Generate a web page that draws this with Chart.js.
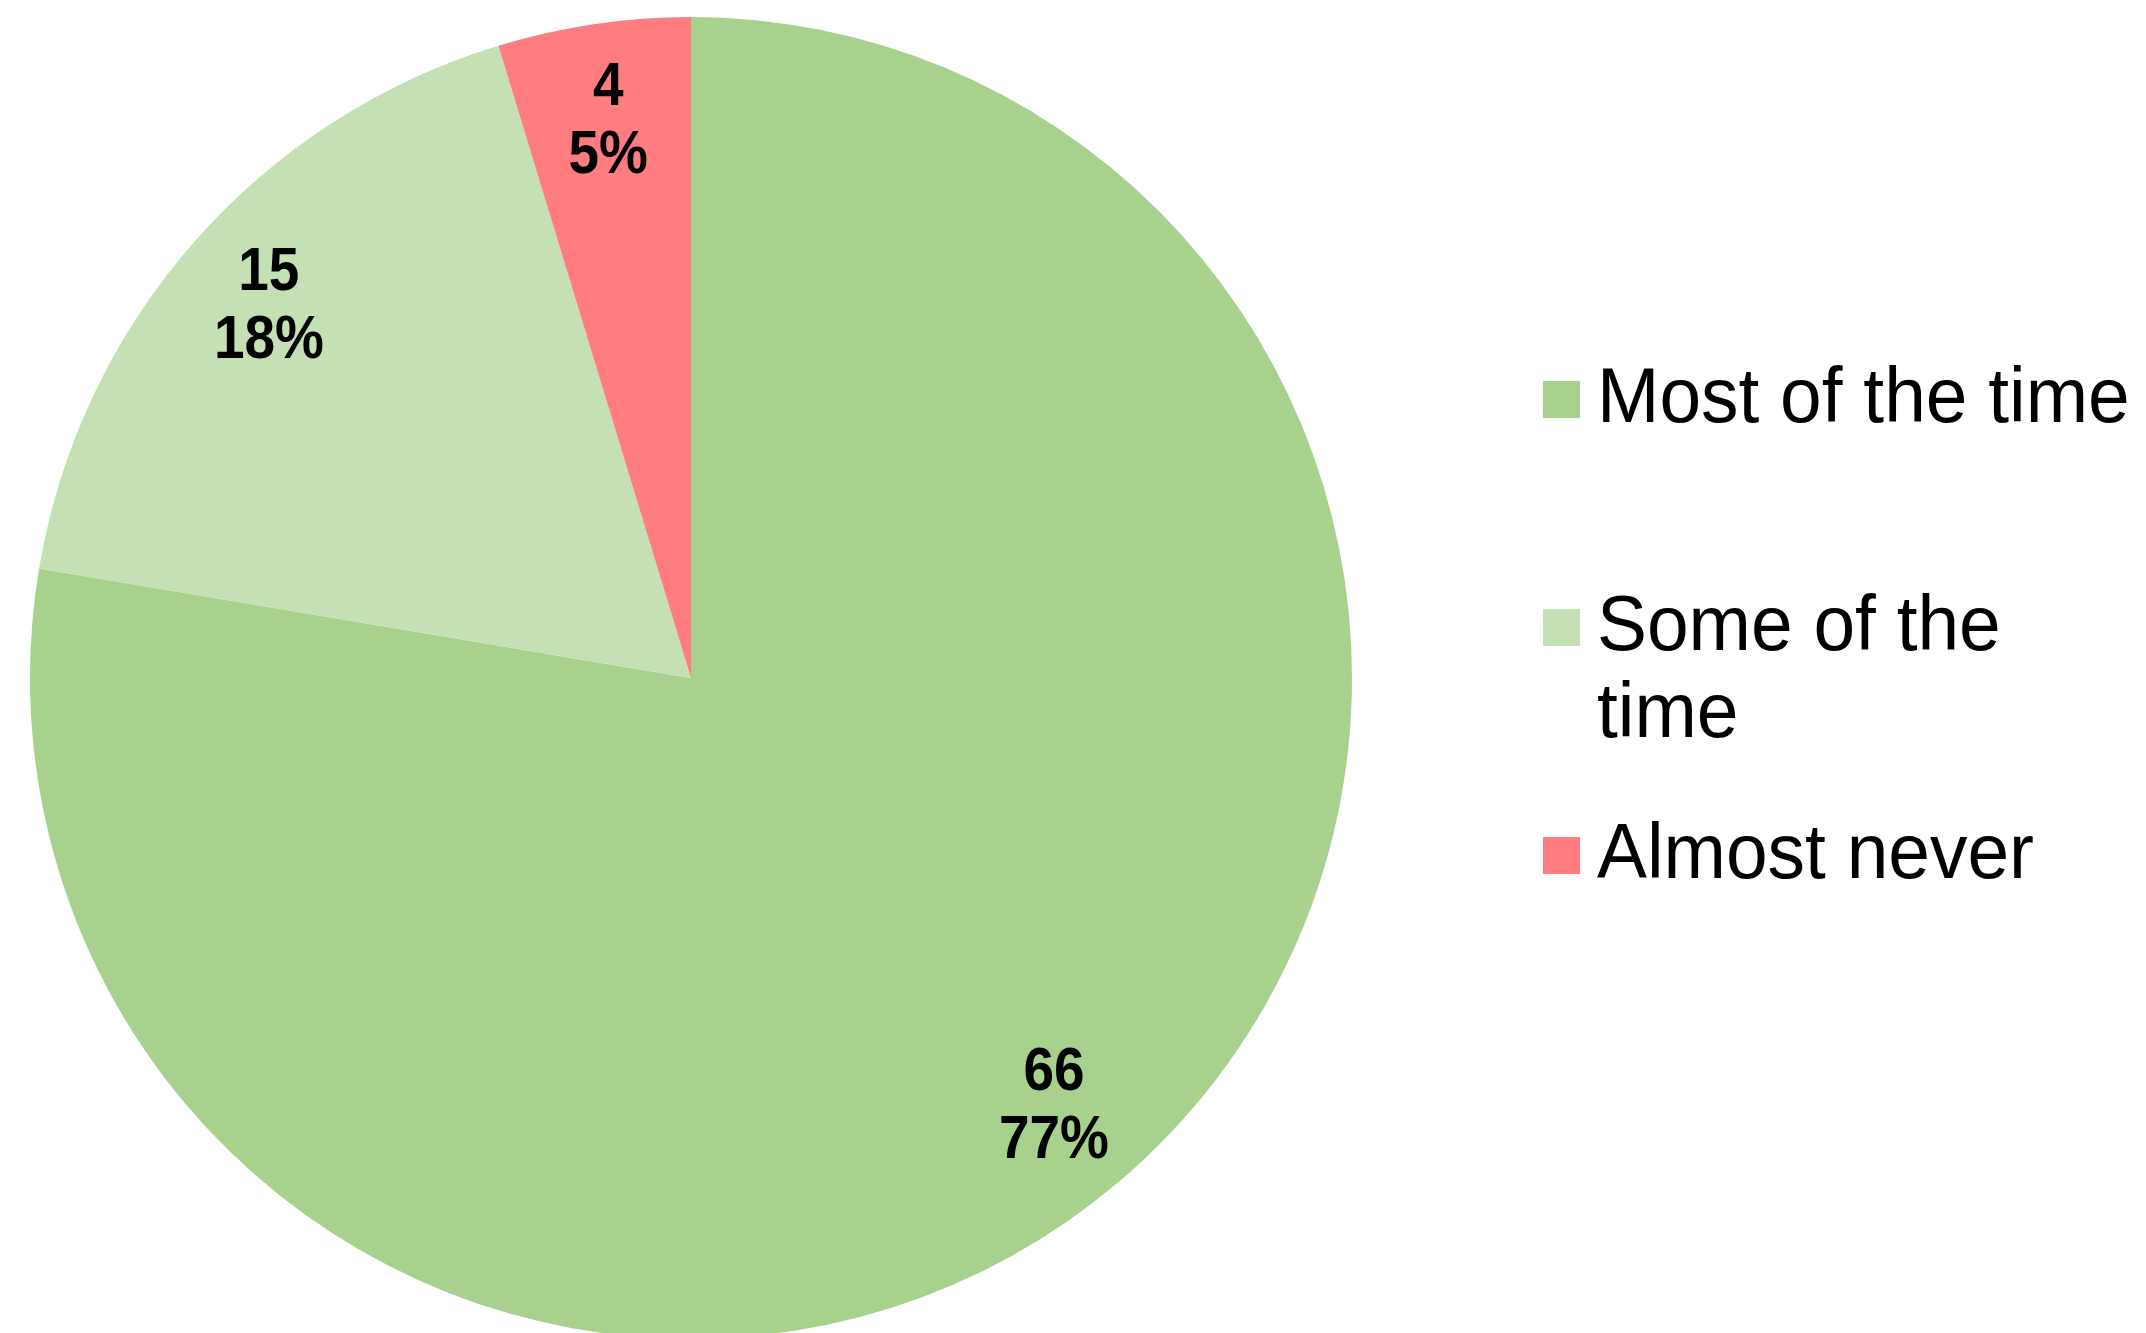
<!DOCTYPE html>
<html>
<head>
<meta charset="utf-8">
<script src="https://cdn.jsdelivr.net/npm/chart.js@4.4.1/dist/chart.umd.min.js"></script>
<style>
  html, body { margin: 0; padding: 0; background: #fff; overflow: hidden; }
  #wrap { position: absolute; left: 0; top: 0; width: 2146px; height: 1345px; }
</style>
</head>
<body>
<div id="wrap"><canvas id="chart"></canvas></div>
<script>
// ─────────────────────────────────────────
// DATA
// ─────────────────────────────────────────
const categories = ['Most of the time', 'Some of the time', 'Almost never'];
const counts = [66, 15, 4];
const percentLabels = ['77%', '18%', '5%'];
const legendLines = [['Most of the time'], ['Some of the', 'time'], ['Almost never']];
const sliceColors = ['#A9D18E', '#C5E0B4', '#FF7C80'];

const FONT = "'Liberation Sans', Arial, sans-serif";

// ─────────────────────────────────────────
// PLUGINS — value/percent labels + right legend
// ─────────────────────────────────────────
const sliceLabels = {
  id: 'sliceLabels',
  afterDatasetsDraw(chart) {
    const { ctx } = chart;
    const meta = chart.getDatasetMeta(0);
    ctx.save();
    ctx.fillStyle = '#000';
    ctx.font = `bold 61px ${FONT}`;
    ctx.textAlign = 'center';
    ctx.textBaseline = 'middle';
    meta.data.forEach((arc, i) => {
      const { x, y, startAngle, endAngle, outerRadius } =
        arc.getProps(['x', 'y', 'startAngle', 'endAngle', 'outerRadius'], true);
      const mid = (startAngle + endAngle) / 2;
      const px = x + Math.cos(mid) * outerRadius * 0.85;
      const py = y + Math.sin(mid) * outerRadius * 0.85;
      ctx.save();
      ctx.translate(px, py);
      ctx.scale(0.9, 1);
      ctx.fillText(String(chart.data.datasets[0].data[i]), 0, -34);
      ctx.fillText(percentLabels[i], 0, 34);
      ctx.restore();
    });
    ctx.restore();
  },
};

const sideLegend = {
  id: 'sideLegend',
  afterDraw(chart) {
    const { ctx } = chart;
    const boxX = 1543, box = 37, textX = 1597;
    const firstBase = 422, slot = 228, lineH = 87;
    ctx.save();
    ctx.font = `78px ${FONT}`;
    ctx.textAlign = 'left';
    ctx.textBaseline = 'alphabetic';
    legendLines.forEach((lines, i) => {
      const base = firstBase + i * slot;
      ctx.fillStyle = chart.data.datasets[0].backgroundColor[i];
      ctx.fillRect(boxX, base - 22.5 - box / 2, box, box);
      ctx.fillStyle = '#000';
      lines.forEach((t, j) => {
        ctx.save();
        ctx.translate(textX, base + j * lineH);
        ctx.scale(0.96, 1);
        ctx.fillText(t, 0, 0);
        ctx.restore();
      });
    });
    ctx.restore();
  },
};

// ─────────────────────────────────────────
// CHART
// ─────────────────────────────────────────
new Chart(document.getElementById('chart'), {
  type: 'pie',
  data: {
    labels: categories,
    datasets: [{
      data: counts,
      backgroundColor: sliceColors,
      borderWidth: 0,
    }],
  },
  options: {
    responsive: true,
    maintainAspectRatio: false,
    animation: false,
    events: [],
    layout: { padding: { left: 30, right: 794, top: 17, bottom: 6 } },
    plugins: {
      legend: { display: false },
      tooltip: { enabled: false },
    },
  },
  plugins: [sliceLabels, sideLegend],
});
</script>
</body>
</html>
